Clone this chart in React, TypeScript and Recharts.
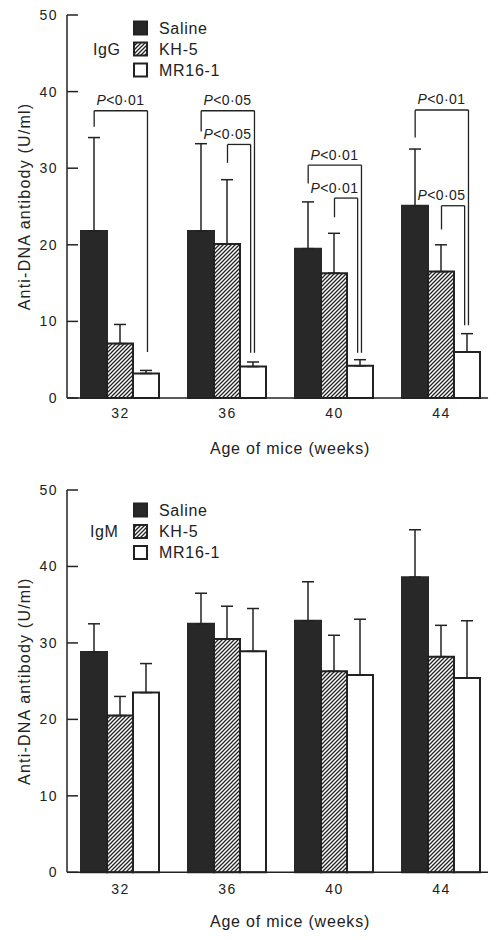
import React from "react";
import {
  BarChart,
  Bar,
  XAxis,
  YAxis,
  ErrorBar,
  ReferenceLine,
  ReferenceDot,
  Legend,
} from "recharts";

const weeks = ["32", "36", "40", "44"];
const seriesNames = ["Saline", "KH-5", "MR16-1"];
const yTicks = [0, 10, 20, 30, 40, 50];

// IgG (top panel)
const iggSaline = [21.8, 21.8, 19.5, 25.1];
const iggKh5 = [7.1, 20.1, 16.3, 16.5];
const iggMr16 = [3.2, 4.1, 4.2, 6.0];
const iggSalineErr = [12.2, 11.4, 6.1, 7.4];
const iggKh5Err = [2.5, 8.4, 5.2, 3.5];
const iggMr16Err = [0.4, 0.6, 0.8, 2.4];

// IgM (bottom panel)
const igmSaline = [28.8, 32.5, 32.9, 38.6];
const igmKh5 = [20.5, 30.5, 26.3, 28.2];
const igmMr16 = [23.5, 28.9, 25.8, 25.4];
const igmSalineErr = [3.7, 4.0, 5.1, 6.2];
const igmKh5Err = [2.5, 4.3, 4.7, 4.1];
const igmMr16Err = [3.8, 5.6, 7.3, 7.5];

// significance brackets (IgG): week index, bars compared, bracket height, leg ends
const bracketWeek = [0, 1, 1, 2, 2, 3, 3];
const bracketFrom = [0, 0, 1, 0, 1, 0, 1];
const bracketTop = [37.5, 37.5, 33.1, 30.4, 26.1, 37.6, 25.1];
const bracketFromEnd = [35.4, 34.8, 30.7, 28.0, 23.6, 34.0, 22.0];
const bracketToEnd = [6.0, 5.9, 5.9, 5.9, 5.9, 9.5, 9.5];
const bracketP = ["0·01", "0·05", "0·05", "0·01", "0·01", "0·01", "0·05"];

const FONT = '"Liberation Sans", Arial, Helvetica, sans-serif';
const INK = "#222";
const DARK = "#282828";
const CAT_GAP = 14; // px each side of a group
const BAND = 107; // px per week
const BAR_STEP = (1 - (2 * CAT_GAP) / BAND) / 3; // bar width in week units

const buildRows = (s: number[], k: number[], m: number[], se: number[], ke: number[], me: number[]) =>
  weeks.map((w, i) => ({
    week: w,
    slot: i + 0.5,
    saline: s[i],
    kh5: k[i],
    mr16: m[i],
    salineErr: [0, se[i]],
    kh5Err: [0, ke[i]],
    mr16Err: [0, me[i]],
  }));

const iggData = buildRows(iggSaline, iggKh5, iggMr16, iggSalineErr, iggKh5Err, iggMr16Err);
const igmData = buildRows(igmSaline, igmKh5, igmMr16, igmSalineErr, igmKh5Err, igmMr16Err);

const fills = [DARK, "url(#hatch)", "#fff"];

const PLabel = ({ cx, cy, p }: any) => (
  <text
    x={cx}
    y={cy - 5.5}
    textAnchor="middle"
    fontSize={14}
    fill={INK}
    fontFamily={FONT}
    letterSpacing={0.4}
  >
    <tspan fontStyle="italic">P</tspan>
    <tspan>{"<" + p}</tspan>
  </text>
);

const makeLegend = (tag: string, rowY: number[], tagX: number) => () => (
  <svg width={503} height={100} style={{ display: "block" }}>
    <text x={tagX} y={rowY[1] + 5.8} fontSize={16} fill={INK} fontFamily={FONT} letterSpacing={0.6}>
      {tag}
    </text>
    {seriesNames.map((n, i) => (
      <g key={n}>
        <rect x={134} y={rowY[i] - 6.5} width={13} height={13} fill={fills[i]} stroke={INK} strokeWidth={2} />
        <text x={159} y={rowY[i] + 5.8} fontSize={16} fill={INK} fontFamily={FONT} letterSpacing={0.7}>
          {n}
        </text>
      </g>
    ))}
  </svg>
);

const tickStyle = { fontSize: 14, fill: INK, fontFamily: FONT, letterSpacing: 1.5 };

function Panel({
  data,
  tag,
  legendRows,
  tagX,
  marginTop,
  marginBottom,
  xTickMargin,
  titleY,
  brackets,
}: any) {
  const plotBottom = 470 - marginBottom - 30;
  const midY = (marginTop + plotBottom) / 2;
  return (
    <BarChart
      width={503}
      height={470}
      data={data}
      margin={{ top: marginTop, right: 8, left: 0, bottom: marginBottom }}
      barCategoryGap={CAT_GAP}
      barGap={0}
    >
      <XAxis
        dataKey="week"
        height={30}
        axisLine={false}
        tickLine={false}
        tickSize={0}
        tickMargin={xTickMargin}
        tick={tickStyle}
      />
      <XAxis xAxisId="n" dataKey="slot" type="number" domain={[0, 4]} hide allowDataOverflow />
      <YAxis
        width={67}
        domain={[0, 50]}
        ticks={yTicks}
        interval={0}
        tickSize={-11}
        tickMargin={20}
        axisLine={{ stroke: INK, strokeWidth: 1.5 }}
        tickLine={{ stroke: INK, strokeWidth: 1.5 }}
        tick={tickStyle}
      />
      <Legend
        layout="vertical"
        align="center"
        verticalAlign="middle"
        wrapperStyle={{ left: 0, top: 0, width: 503, height: 100 }}
        content={makeLegend(tag, legendRows, tagX)}
      />
      <Bar dataKey="saline" name={seriesNames[0]} fill={DARK} stroke={DARK} strokeWidth={2} isAnimationActive={false}>
        <ErrorBar dataKey="salineErr" width={6} stroke={INK} strokeWidth={1.5} direction="y" />
      </Bar>
      <Bar dataKey="kh5" name={seriesNames[1]} fill="url(#hatch)" stroke={INK} strokeWidth={2} isAnimationActive={false}>
        <ErrorBar dataKey="kh5Err" width={6} stroke={INK} strokeWidth={1.5} direction="y" />
      </Bar>
      <Bar dataKey="mr16" name={seriesNames[2]} fill="#fff" stroke={INK} strokeWidth={2} isAnimationActive={false}>
        <ErrorBar dataKey="mr16Err" width={6} stroke={INK} strokeWidth={1.5} direction="y" />
      </Bar>
      <ReferenceLine
        xAxisId="n"
        segment={[
          { x: 0, y: 0 },
          { x: 3.935, y: 0 },
        ]}
        stroke={INK}
        strokeWidth={1.5}
      />
      {brackets &&
        bracketWeek.map((w, i) => {
          const c = w + 0.5;
          const inner = bracketFrom[i] === 1;
          const x1 = c + (bracketFrom[i] - 1) * BAR_STEP;
          const x2 = c + BAR_STEP + (inner ? -0.03 : 0.006);
          const segs = [
            [
              { x: x1, y: bracketFromEnd[i] },
              { x: x1, y: bracketTop[i] },
            ],
            [
              { x: x1, y: bracketTop[i] },
              { x: x2, y: bracketTop[i] },
            ],
            [
              { x: x2, y: bracketTop[i] },
              { x: x2, y: bracketToEnd[i] },
            ],
          ];
          return (
            <React.Fragment key={"b" + i}>
              {segs.map((s, j) => (
                <ReferenceLine key={j} xAxisId="n" segment={s as any} stroke={INK} strokeWidth={1.3} />
              ))}
              <ReferenceDot
                xAxisId="n"
                x={c}
                y={bracketTop[i]}
                r={0}
                shape={(p: any) => <PLabel cx={p.cx} cy={p.cy} p={bracketP[i]} />}
              />
            </React.Fragment>
          );
        })}
      <text
        x={290}
        y={titleY}
        textAnchor="middle"
        fontSize={16}
        fill={INK}
        fontFamily={FONT}
        letterSpacing={0.8}
      >
        Age of mice (weeks)
      </text>
      <text
        x={30}
        y={midY}
        transform={`rotate(-90 30 ${midY})`}
        textAnchor="middle"
        fontSize={16}
        fill={INK}
        fontFamily={FONT}
        letterSpacing={1.2}
      >
        Anti-DNA antibody (U/ml)
      </text>
    </BarChart>
  );
}

export default function App() {
  return (
    <div
      style={{
        position: "absolute",
        left: 0,
        top: 0,
        width: 503,
        height: 940,
        background: "#fff",
      }}
    >
      <svg width={0} height={0} style={{ position: "absolute" }}>
        <defs>
          <pattern id="hatch" patternUnits="userSpaceOnUse" width={4} height={4}>
            <rect width={4} height={4} fill="#fff" />
            <path d="M-1,1 l2,-2 M0,4 l4,-4 M3,5 l2,-2" stroke={INK} strokeWidth={1.3} />
          </pattern>
        </defs>
      </svg>
      <Panel
        data={iggData}
        tag="IgG"
        legendRows={[28, 49, 70]}
        tagX={93}
        marginTop={15}
        marginBottom={42}
        xTickMargin={10}
        titleY={454}
        brackets
      />
      <Panel
        data={igmData}
        tag="IgM"
        legendRows={[40, 61.5, 82.5]}
        tagX={90}
        marginTop={20}
        marginBottom={37.7}
        xTickMargin={12}
        titleY={456.7}
        brackets={false}
      />
    </div>
  );
}
